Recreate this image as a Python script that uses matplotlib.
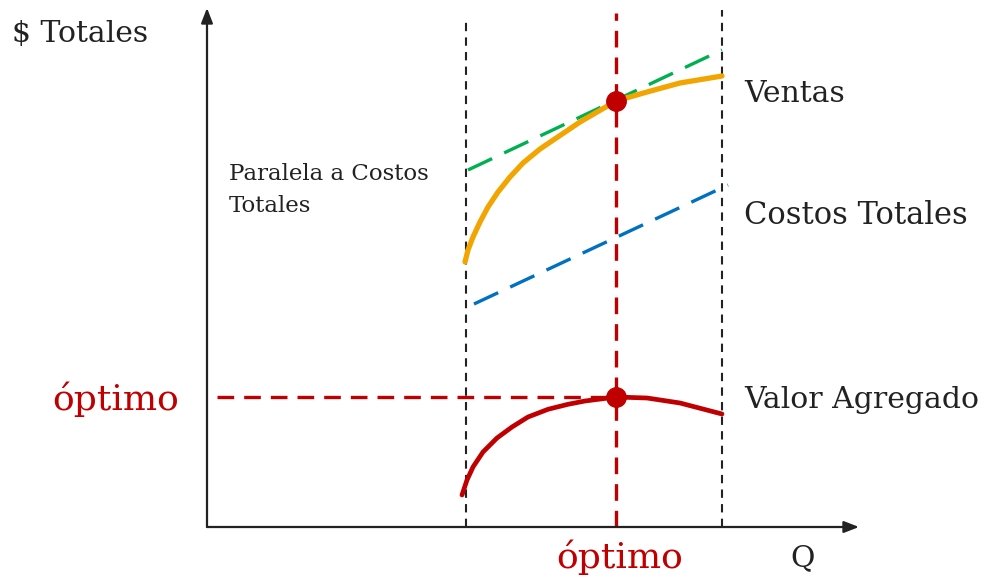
import matplotlib.pyplot as plt

plt.rcParams['font.family'] = ['DejaVu Serif']

q_ventas = [25.8, 26.1, 26.6, 27.3, 28.1, 29.1, 30.3, 31.6, 33.3, 35.0, 37.3, 40.9, 44.0, 47.3, 51.5]
y_ventas = [26.5, 27.7, 29.0, 30.5, 32.0, 33.5, 35.0, 36.4, 37.8, 38.95, 40.5, 42.6, 43.5, 44.4, 45.1]

q_paralela = [26.1, 51.5]
y_paralela = [35.7, 47.7]

q_costos = [26.7, 52.1]
y_costos = [22.3, 34.2]

q_valor = [25.5, 26.0, 26.6, 27.6, 29.0, 30.5, 32.1, 34.1, 36.1, 37.8, 40.9, 44.0, 47.3, 51.5]
y_valor = [3.2, 4.7, 6.0, 7.5, 8.9, 10.0, 11.0, 11.77, 12.27, 12.6, 13.0, 12.9, 12.4, 11.3]

q_min, q_opt, q_max = 25.9, 40.9, 51.5
y_opt_ventas = 42.6
y_opt_valor = 13.0

rojo = '#C00000'
negro = '#222222'

fig = plt.figure(figsize=(9.87, 5.78), dpi=100)
ax = fig.add_axes([0, 0, 1, 1])
ax.set_xlim(-20.7, 78.0)
ax.set_ylim(-5.1, 52.7)
ax.axis('off')

# ejes con flechas
ax.annotate('', xy=(0, 51.9), xytext=(0, 0),
            arrowprops=dict(arrowstyle='-|>,head_width=0.35,head_length=0.9',
                            color=negro, lw=1.6, shrinkA=0, shrinkB=0))
ax.annotate('', xy=(65.2, 0), xytext=(0, 0),
            arrowprops=dict(arrowstyle='-|>,head_width=0.35,head_length=0.9',
                            color=negro, lw=1.6, shrinkA=0, shrinkB=0))

# limites verticales
ax.plot([q_min, q_min], [0, 50.9], color=negro, lw=1.5, ls=(0, (4, 3)))
ax.plot([q_max, q_max], [0, 51.7], color=negro, lw=1.5, ls=(0, (4, 3)))

# optimo
ax.plot([q_opt, q_opt], [0, 51.4], color=rojo, lw=2.4, ls=(0, (5, 3)))
ax.plot([1.0, q_opt], [y_opt_valor, y_opt_valor], color=rojo, lw=2.4, ls=(0, (5, 3)))

ax.plot(q_paralela, y_paralela, color='#00B050', lw=2.4, ls=(0, (8, 4)))
ax.plot(q_costos, y_costos, color='#0070C0', lw=2.4, ls=(0, (8, 4)))
ax.plot(q_ventas, y_ventas, color='#F2A500', lw=3.8, solid_capstyle='round', solid_joinstyle='round')
ax.plot(q_valor, y_valor, color=rojo, lw=3.4, solid_capstyle='round', solid_joinstyle='round')

ax.plot([q_opt, q_opt], [y_opt_ventas, y_opt_valor], 'o', color=rojo, markersize=14, ls='none')

# textos
ax.text(-19.5, 48.5, '$ Totales', fontsize=21.5, color=negro, va='baseline')
ax.text(53.7, 42.5, 'Ventas', fontsize=21.5, color=negro, va='baseline')
ax.text(53.7, 30.3, 'Costos Totales', fontsize=22, color=negro, va='baseline')
ax.text(53.7, 11.9, 'Valor Agregado', fontsize=21.5, color=negro, va='baseline')
ax.text(2.2, 34.7, 'Paralela a Costos', fontsize=16.5, color=negro, va='baseline')
ax.text(2.2, 31.5, 'Totales', fontsize=16.5, color=negro, va='baseline')
ax.text(-15.5, 11.7, 'óptimo', fontsize=26, color=rojo, va='baseline')
ax.text(34.9, -4.1, 'óptimo', fontsize=26, color=rojo, va='baseline')
ax.text(58.3, -3.9, 'Q', fontsize=21.5, color=negro, va='baseline')

fig.savefig('out.png', dpi=100)
